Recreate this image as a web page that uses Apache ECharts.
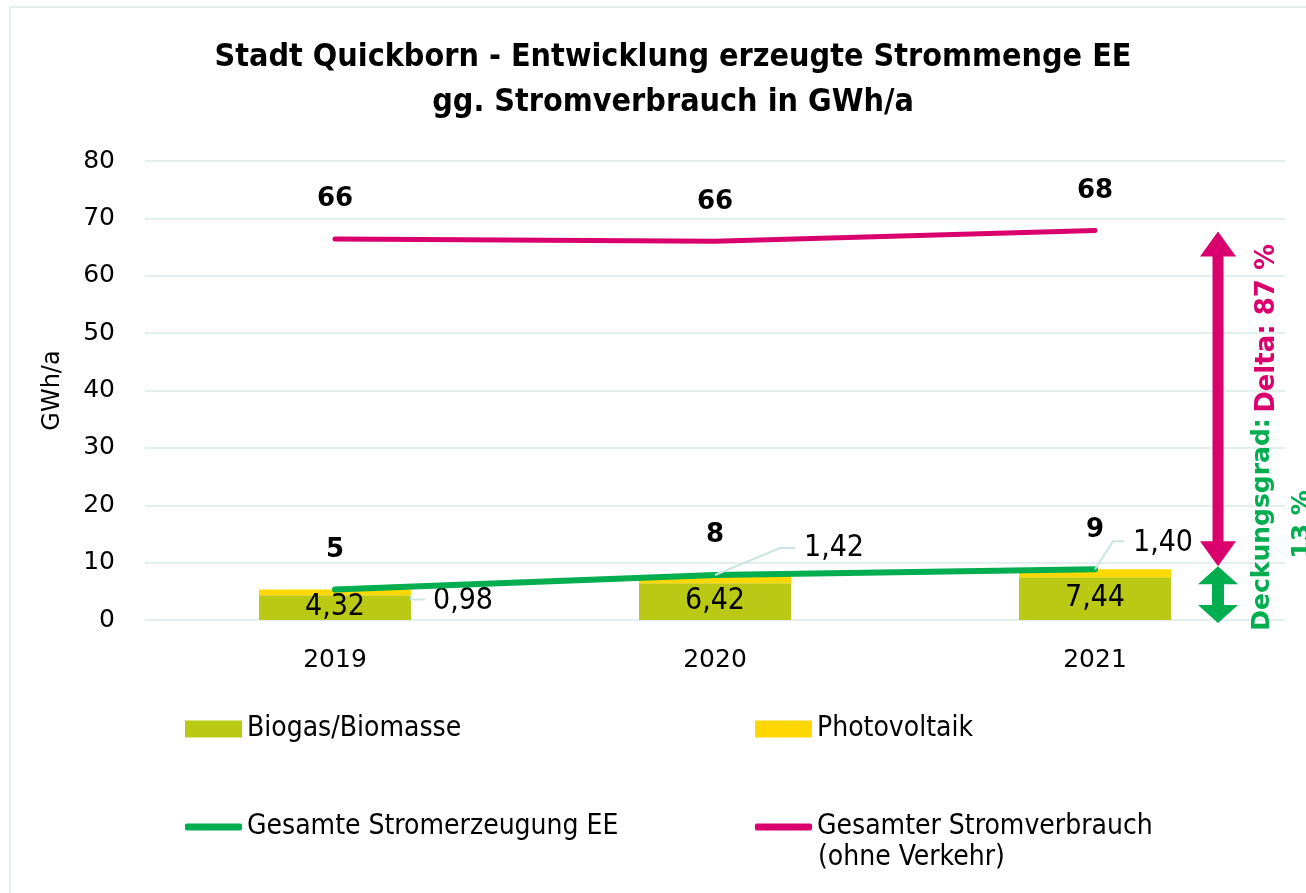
<!DOCTYPE html>
<html>
<head>
<meta charset="utf-8">
<script src="https://cdn.jsdelivr.net/npm/echarts@6/dist/echarts.min.js"></script>
<style>
html,body{margin:0;padding:0;background:#fff;}
#chart{width:1306px;height:893px;}
</style>
</head>
<body>
<div id="chart"></div>
<script>
// ---- data ----
const categories = ['2019', '2020', '2021'];
const biogas = [4.32, 6.42, 7.44];
const photovoltaik = [0.98, 1.42, 1.40];
const totalEE = [5.30, 7.84, 8.84];
const consumption = [66.4, 66.0, 67.9];
const yMin = 0, yMax = 80, yInterval = 10;
const deckungsgrad = 13;
const delta = 87;
const legendNames = ['Biogas/Biomasse', 'Photovoltaik', 'Gesamte Stromerzeugung EE', 'Gesamter Stromverbrauch'];
const legendSubLine = '(ohne Verkehr)';

// ---- style ----
const C_BIO = '#bac914', C_PV = '#ffd800', C_GREEN = '#00ad4f', C_PINK = '#d9006d';
const GRIDC = '#e2efee', LEADER = '#cbe5e3';
const fmtComma = v => v.toFixed(2).replace('.', ',');
const pvLabelShift = [[128, 9], [119, -31], [68, -30]];
const condensed = '"DejaVu Sans Condensed", "DejaVu Sans", sans-serif';
const tickFont = '"DejaVu Sans", sans-serif';
const boldFont = '"DejaVu Sans", sans-serif';
const legendText = {fontFamily: condensed, fontSize: 28, color: '#000'};

const chart = echarts.init(document.getElementById('chart'), null, {renderer: 'canvas'});

const option = {
  backgroundColor: '#fff',
  animation: false,
  title: {
    text: 'Stadt Quickborn - Entwicklung erzeugte Strommenge EE\ngg. Stromverbrauch in GWh/a',
    left: 668, top: 30, textAlign: 'center',
    textStyle: {fontFamily: condensed, fontWeight: 'bold', fontSize: 32, lineHeight: 45, color: '#000'}
  },
  grid: {left: 145, right: 21, top: 161, bottom: 273, containLabel: false},
  xAxis: {
    type: 'category', data: categories,
    axisLine: {show: false}, axisTick: {show: false},
    axisLabel: {fontFamily: tickFont, fontSize: 25, color: '#000', margin: 28}
  },
  yAxis: {
    type: 'value', min: yMin, max: yMax, interval: yInterval,
    name: 'GWh/a', nameLocation: 'middle', nameGap: 80, nameRotate: 90,
    nameTextStyle: {fontFamily: tickFont, fontSize: 24, color: '#000'},
    axisLine: {show: false}, axisTick: {show: false},
    axisLabel: {fontFamily: tickFont, fontSize: 25, color: '#000', margin: 30},
    splitLine: {lineStyle: {color: GRIDC, width: 2}}
  },
  legend: [
    {data: [legendNames[0]], left: 185, top: 715, padding: 0, itemWidth: 57, itemHeight: 17, icon: 'rect', textStyle: legendText},
    {data: [legendNames[1]], left: 755, top: 715, padding: 0, itemWidth: 57, itemHeight: 17, icon: 'rect', textStyle: legendText},
    {data: [legendNames[2]], left: 185, top: 813, padding: 0, itemWidth: 57, itemHeight: 7, icon: 'roundRect', textStyle: legendText},
    {data: [legendNames[3]], left: 755, top: 813, padding: 0, itemWidth: 57, itemHeight: 7, icon: 'roundRect', textStyle: legendText}
  ],
  series: [
    {
      name: legendNames[0], type: 'bar', stack: 'ee', data: biogas, barWidth: '40%',
      itemStyle: {color: C_BIO},
      label: {show: true, position: 'inside', formatter: p => fmtComma(p.value),
              fontFamily: condensed, fontSize: 30, color: '#000'}
    },
    {
      name: legendNames[1], type: 'bar', stack: 'ee', data: photovoltaik, barWidth: '40%',
      itemStyle: {color: C_PV},
      label: {show: true, position: 'inside', formatter: p => fmtComma(p.value),
              fontFamily: condensed, fontSize: 30, color: '#000'},
      labelLayout: p => ({dx: pvLabelShift[p.dataIndex][0], dy: pvLabelShift[p.dataIndex][1]})
    },
    {
      name: legendNames[2], type: 'line', data: totalEE,
      symbol: 'circle', symbolSize: 1, itemStyle: {color: C_GREEN},
      lineStyle: {color: C_GREEN, width: 6, cap: 'round'},
      label: {show: true, position: 'top', distance: 26, formatter: p => Math.round(p.value),
              fontFamily: boldFont, fontWeight: 'bold', fontSize: 26, color: '#000'},
      z: 5
    },
    {
      name: legendNames[3], type: 'line', data: consumption,
      symbol: 'circle', symbolSize: 1, itemStyle: {color: C_PINK},
      lineStyle: {color: C_PINK, width: 5, cap: 'round'},
      label: {show: true, position: 'top', distance: 26, formatter: p => Math.round(p.value),
              fontFamily: boldFont, fontWeight: 'bold', fontSize: 26, color: '#000'},
      z: 5
    }
  ]
};
chart.setOption(option);

// ---- positions derived through the axes ----
const px = (cat, v) => chart.convertToPixel({gridIndex: 0}, [cat, v]);
const xA = px(categories[2], 0)[0] + 123;
const yTop = px(categories[2], consumption[2])[1] + 1;
const yMid = px(categories[2], totalEE[2])[1] - 3;
const yBot = px(categories[2], 0)[1] + 3;

function dblArrow(x, t, b, hw, hh, sw) {
  return [[x, t], [x + hw, t + hh], [x + sw, t + hh], [x + sw, b - hh], [x + hw, b - hh],
          [x, b], [x - hw, b - hh], [x - sw, b - hh], [x - sw, t + hh], [x - hw, t + hh]];
}

// leader lines from the stack tops to the PV labels
const leaderShape = [
  [[76, 6], [76, 10], [90, 10]],
  [[0, 0], [65, -27], [80, -27]],
  [[0, 0], [18, -28], [29, -28]]
];
const leaders = categories.map((c, i) => {
  const a = px(c, biogas[i] + photovoltaik[i]);
  return {type: 'polyline', z: 10, silent: true,
          shape: {points: leaderShape[i].map(d => [a[0] + d[0], a[1] + d[1]])},
          style: {stroke: LEADER, lineWidth: 2, fill: null}};
});

chart.setOption({
  graphic: [
    {type: 'rect', shape: {x: 10, y: 7, width: 1400, height: 1000}, style: {fill: 'none', stroke: '#e3eeee', lineWidth: 2}, silent: true},
    ...leaders,
    {type: 'polygon', shape: {points: dblArrow(xA, yTop, yMid, 18, 25, 5.5)}, style: {fill: C_PINK}},
    {type: 'polygon', shape: {points: dblArrow(xA, yMid, yBot, 20, 18, 6)}, style: {fill: C_GREEN}},
    {type: 'text', x: xA + 49, y: yTop + 97, rotation: Math.PI / 2,
     style: {text: 'Delta: ' + delta + ' %', fill: C_PINK, font: 'bold 26px "DejaVu Sans", sans-serif',
             align: 'center', verticalAlign: 'middle'}},
    {type: 'text', x: xA + 64, y: yTop + 293, rotation: Math.PI / 2,
     style: {text: 'Deckungsgrad:\n' + deckungsgrad + ' %', fill: C_GREEN, font: 'bold 25px "DejaVu Sans", sans-serif',
             lineHeight: 40, align: 'center', verticalAlign: 'middle'}},
    {type: 'text', x: 818, y: 858,
     style: {text: legendSubLine, fill: '#000', font: '28px "DejaVu Sans Condensed", "DejaVu Sans", sans-serif',
             align: 'left', verticalAlign: 'middle'}}
  ]
});
</script>
</body>
</html>
